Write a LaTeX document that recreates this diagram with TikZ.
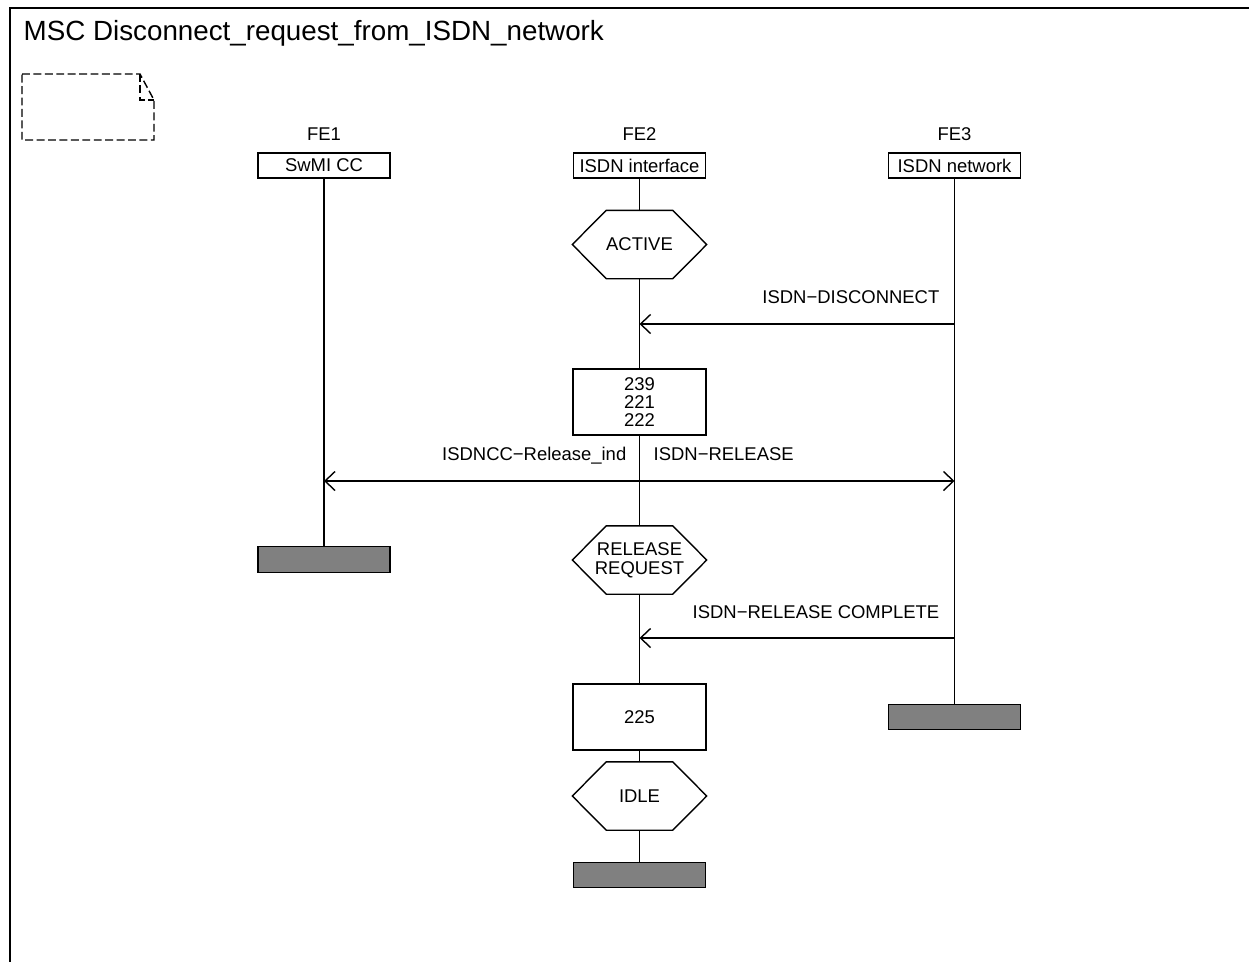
\documentclass[tikz,border=0pt]{standalone}
\usepackage{fontspec}
\setmainfont{Liberation Sans}
\usetikzlibrary{arrows.meta}

\tikzset{
  inst/.style={draw, minimum width=2.64cm, minimum height=0.5cm, inner sep=0pt},
  stopbox/.style={draw, fill=gray, minimum width=2.64cm, minimum height=0.51cm, inner sep=0pt},
  actbox/.style={draw, minimum width=2.66cm, minimum height=1.32cm, align=center, inner sep=0pt},
  cond/.style={minimum width=2.66cm, minimum height=1.34cm, align=center, inner sep=0pt,
    append after command={\pgfextra{\draw (\tikzlastnode.west) -- ([xshift=0.68cm]\tikzlastnode.north west) -- ([xshift=-0.68cm]\tikzlastnode.north east) -- (\tikzlastnode.east) -- ([xshift=-0.68cm]\tikzlastnode.south east) -- ([xshift=0.68cm]\tikzlastnode.south west) -- cycle;}}},
  msg/.style={-{Straight Barb[length=0.2cm,width=0.38cm]}},
}

\begin{document}
\begin{tikzpicture}[line width=0.8pt, font=\fontsize{10.5}{10.2}\selectfont]
        \useasboundingbox (0,0) rectangle (24.98,-19.22);

        %frame and title
        \draw (0.2,-19.5) -- (0.2,-0.16) -- (25.2,-0.16);
        \node[anchor=base west, inner sep=0pt, font=\fontsize{15.8}{18}\selectfont] (title) at (0.46,-0.814) {MSC Disconnect\_request\_from\_ISDN\_network};

        %comment symbol
        \draw[dash pattern=on 4.5pt off 2pt] (0.44,-1.48) -- (2.8,-1.48) -- (3.08,-2.0) -- (3.08,-2.8) -- (0.44,-2.8) -- cycle;
        \draw[dash pattern=on 4.5pt off 2pt] (2.8,-1.48) -- (2.8,-2.0) -- (3.08,-2.0);

        %instance names
        \node[anchor=base, inner sep=0pt] (fe1l) at (6.48,-2.8) {FE1};
        \node[anchor=base, inner sep=0pt] (fe2l) at (12.79,-2.8) {FE2};
        \node[anchor=base, inner sep=0pt] (fe3l) at (19.09,-2.8) {FE3};

        %instance heads
        \node[inst] (fe1) at (6.48,-3.31) {SwMI CC};
        \node[inst] (fe2) at (12.79,-3.31) {ISDN interface};
        \node[inst] (fe3) at (19.09,-3.31) {ISDN network};

        %FE2 conditions and actions
        \node[cond] (active) at (12.79,-4.89) {ACTIVE};
        \node[actbox] (act1) at (12.79,-8.04) {239\\221\\222};
        \node[cond, font=\fontsize{10.5}{10.8}\selectfont] (relreq) at (12.79,-11.2) {RELEASE\\REQUEST};
        \node[actbox] (act2) at (12.79,-14.34) {225};
        \node[cond] (idle) at (12.79,-15.92) {IDLE};

        %instance ends
        \node[stopbox] (stop1) at (6.48,-11.19) {};
        \node[stopbox] (stop2) at (12.79,-17.5) {};
        \node[stopbox] (stop3) at (19.09,-14.34) {};

        %lifelines
        \draw (fe1) -- (stop1);
        \draw (fe3) -- (stop3);
        \draw (fe2) -- (active);
        \draw (active) -- (act1);
        \draw (act1) -- (relreq);
        \draw (relreq) -- (act2);
        \draw (act2) -- (idle);
        \draw (idle) -- (stop2);

        %message points
        \coordinate (disc3) at (19.09,-6.48);
        \coordinate (disc2) at (12.79,-6.48);
        \coordinate (rel1) at (6.48,-9.62);
        \coordinate (rel2) at (12.79,-9.62);
        \coordinate (rel3) at (19.09,-9.62);
        \coordinate (comp3) at (19.09,-12.76);
        \coordinate (comp2) at (12.79,-12.76);

        %messages
        \draw[msg] (disc3) -- (disc2);
        \draw[msg] (rel2) -- (rel1);
        \draw[msg] (rel2) -- (rel3);
        \draw[msg] (comp3) -- (comp2);

        %message names
        \node[anchor=base east, inner sep=0pt] (discl) at (18.8,-6.07) {ISDN−DISCONNECT};
        \node[anchor=base east, inner sep=0pt] (rel1l) at (12.54,-9.2) {ISDNCC−Release\_ind};
        \node[anchor=base west, inner sep=0pt] (rel3l) at (13.06,-9.2) {ISDN−RELEASE};
        \node[anchor=base east, inner sep=0pt] (compl) at (18.8,-12.36) {ISDN−RELEASE COMPLETE};
\end{tikzpicture}
\end{document}
